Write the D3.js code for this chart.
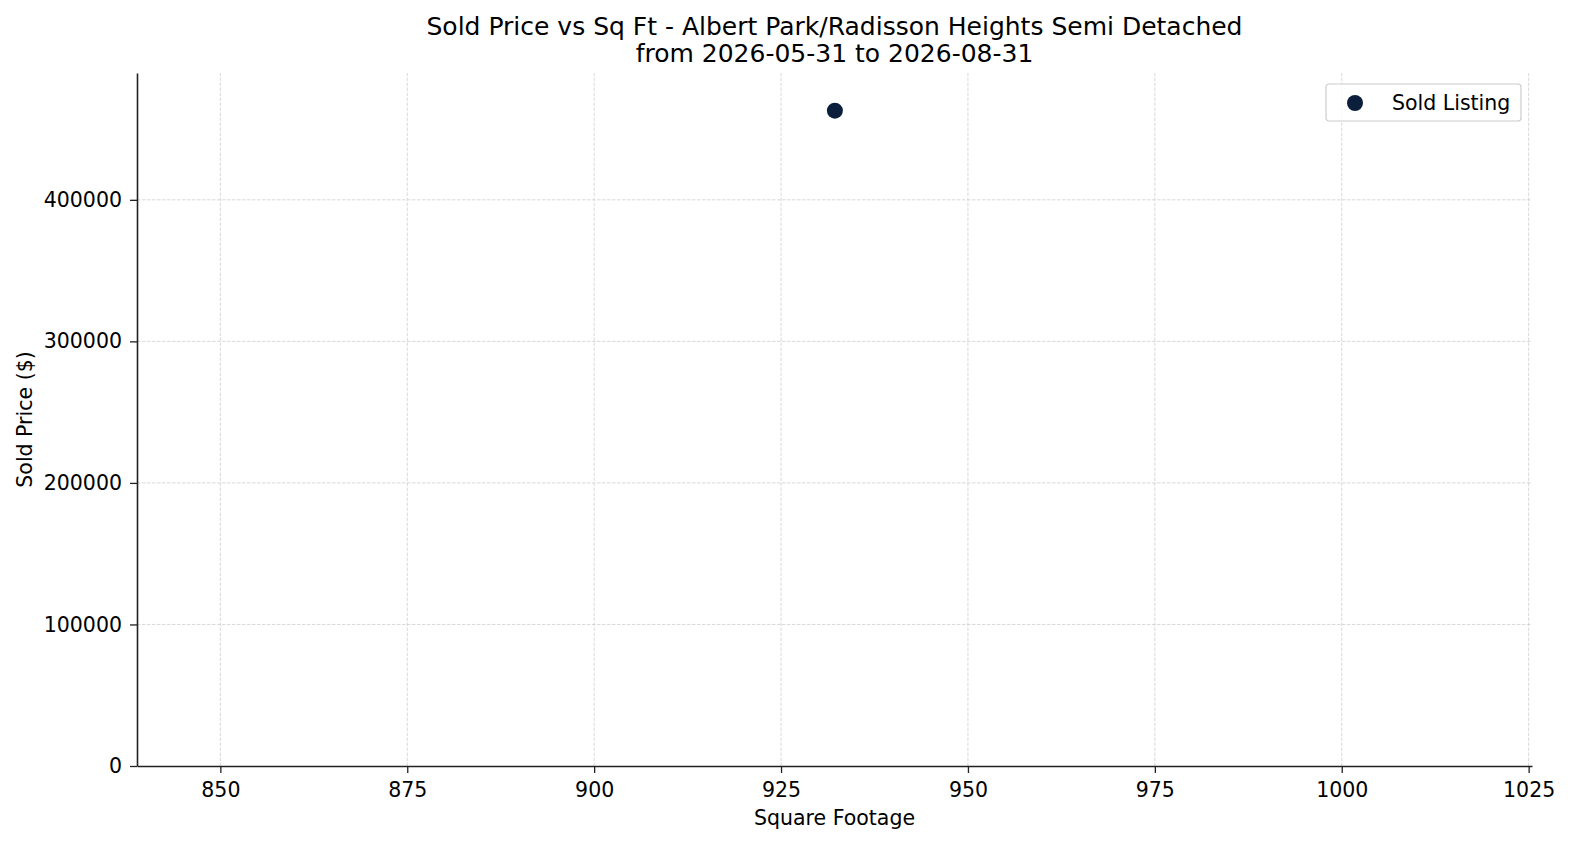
<!DOCTYPE html>
<html lang="en">
<head>
    <meta charset="UTF-8">
    <title>Sold Price vs Sq Ft</title>
    <style>
        body{
            margin: 0;
            overflow: hidden;
            background: #fff;
        }
        text{
            font-family: "DejaVu Sans", sans-serif;
        }
    </style>
</head>
<body>
    <script src="https://cdnjs.cloudflare.com/ajax/libs/d3/7.8.2/d3.min.js"></script>
    <script>

// data
const sqft = [932.2]
const price = [463000]
const xTicks = [850, 875, 900, 925, 950, 975, 1000, 1025]
const yTicks = [0, 100000, 200000, 300000, 400000]
const xDomain = [838.85, 1025.45]
const yDomain = [0, 489600]

const width = 1570, height = 845
const m = {top: 73, right: 38, bottom: 79, left: 137}
const dotColor = '#0b1f3d'
const tickFont = 20.5

const svg = d3.select('body')
.append('svg')
.attr('width', width)
.attr('height', height)

const x = d3.scaleLinear().domain(xDomain).range([m.left, width - m.right])
const y = d3.scaleLinear().domain(yDomain).range([height - m.bottom, m.top])

// grid
const grid = svg.append('g')
grid.selectAll('.vx')
.data(xTicks)
.join('line')
.attr('x1', d => x(d)).attr('x2', d => x(d))
.attr('y1', y.range()[0]).attr('y2', y.range()[1])
grid.selectAll('.hy')
.data(yTicks.slice(1))
.join('line')
.attr('class', 'hy')
.attr('x1', x.range()[0]).attr('x2', x.range()[1])
.attr('y1', d => y(d)).attr('y2', d => y(d))
grid.selectAll('line')
.attr('stroke', '#cfcfcf')
.attr('stroke-width', 0.8)
.attr('stroke-dasharray', '3.5,1.5')

// axes
svg.append('g')
.attr('transform', `translate(0,${height - m.bottom})`)
.call(d3.axisBottom(x).tickValues(xTicks).tickFormat(d3.format('d')).tickSize(7).tickPadding(9.5).tickSizeOuter(0))

svg.append('g')
.attr('transform', `translate(${m.left},0)`)
.call(d3.axisLeft(y).tickValues(yTicks).tickFormat(d3.format('d')).tickSize(7).tickPadding(8).tickSizeOuter(0))

svg.selectAll('.domain').attr('stroke', '#222').attr('stroke-width', 1.6)
svg.selectAll('.tick line').attr('stroke', '#222').attr('stroke-width', 1.3)
svg.selectAll('.tick text')
.attr('font-family', '"DejaVu Sans", sans-serif')
.attr('font-size', tickFont)
.attr('fill', '#000')

// points
svg.append('g')
.selectAll('circle')
.data(sqft.map((d, i) => [d, price[i]]))
.join('circle')
.attr('cx', d => x(d[0]))
.attr('cy', d => y(d[1]))
.attr('r', 8)
.attr('fill', dotColor)

// titles
svg.append('text')
.attr('x', (m.left + width - m.right) / 2)
.attr('y', 35)
.attr('text-anchor', 'middle')
.attr('font-size', 25)
.text('Sold Price vs Sq Ft - Albert Park/Radisson Heights Semi Detached')

svg.append('text')
.attr('x', (m.left + width - m.right) / 2)
.attr('y', 62)
.attr('text-anchor', 'middle')
.attr('font-size', 25)
.text('from 2026-05-31 to 2026-08-31')

svg.append('text')
.attr('x', (m.left + width - m.right) / 2)
.attr('y', 825)
.attr('text-anchor', 'middle')
.attr('font-size', tickFont)
.text('Square Footage')

svg.append('text')
.attr('transform', `translate(32,${(m.top + height - m.bottom) / 2}) rotate(-90)`)
.attr('text-anchor', 'middle')
.attr('font-size', tickFont)
.text('Sold Price ($)')

// legend
const lg = svg.append('g').attr('transform', 'translate(1326,84)')
lg.append('rect')
.attr('width', 195)
.attr('height', 37)
.attr('rx', 3)
.attr('fill', '#fff')
.attr('fill-opacity', 0.8)
.attr('stroke', '#ccc')
.attr('stroke-width', 1.2)
lg.append('circle')
.attr('cx', 29)
.attr('cy', 19)
.attr('r', 8)
.attr('fill', dotColor)
lg.append('text')
.attr('x', 66)
.attr('y', 26)
.attr('font-size', tickFont)
.text('Sold Listing')

    </script>
</body>
</html>
